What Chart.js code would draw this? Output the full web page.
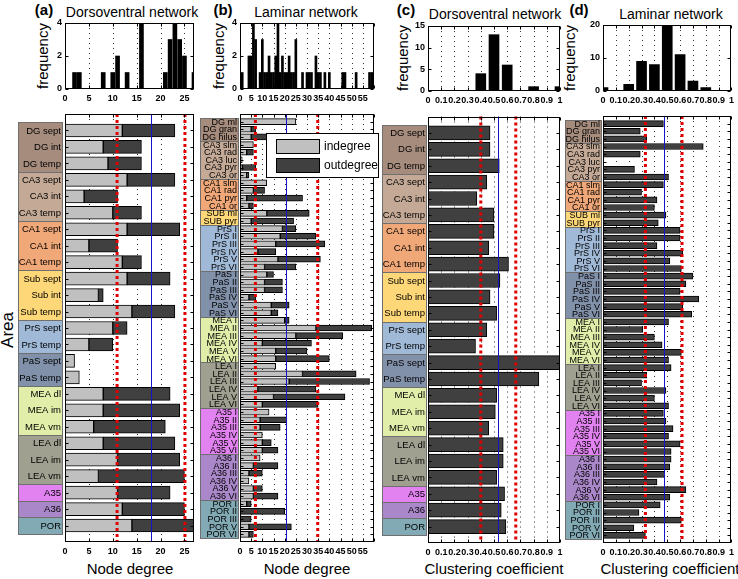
<!DOCTYPE html>
<html>
<head>
<meta charset="utf-8">
<script src="https://cdn.jsdelivr.net/npm/chart.js@4"></script>
<style>
  body { margin: 0; background: #fff; }
  #wrap { position: relative; width: 738px; height: 579px; font-family: "Liberation Sans", Arial, sans-serif; }
  #wrap canvas { position: absolute; left: 0; top: 0; }
  .t { position: absolute; white-space: nowrap; color: #000; transform: translate(-50%, -50%); }
  .b { font-weight: bold; font-size: 15px; }
  .ttl { font-size: 14px; }
  .ax { font-size: 15px; }
  .rot { transform: translate(-50%, -50%) rotate(-90deg); font-size: 15px; }
</style>
</head>
<body>
<div id="wrap">
  <div class="t b" style="left:44px;top:9px">(a)</div>
  <div class="t ttl" style="left:132px;top:12px">Dorsoventral network</div>
  <div class="t b" style="left:223px;top:9px">(b)</div>
  <div class="t ttl" style="left:306px;top:12px">Laminar network</div>
  <div class="t b" style="left:406px;top:9px">(c)</div>
  <div class="t ttl" style="left:495px;top:14px">Dorsoventral network</div>
  <div class="t b" style="left:579px;top:9px">(d)</div>
  <div class="t ttl" style="left:671px;top:14px">Laminar network</div>
  <div class="t rot" style="left:42px;top:56px">frequency</div>
  <div class="t rot" style="left:218px;top:56px">frequency</div>
  <div class="t rot" style="left:402px;top:58px">frequency</div>
  <div class="t rot" style="left:569px;top:58px">frequency</div>
  <div class="t rot" style="left:8px;top:330px;font-size:17px">Area</div>
  <div class="t ax" style="left:130px;top:568px">Node degree</div>
  <div class="t ax" style="left:307px;top:568px">Node degree</div>
  <div class="t ax" style="left:494px;top:568px">Clustering coefficient</div>
  <div class="t ax" style="left:670px;top:568px">Clustering coefficient</div>
</div>
<script>
  // dorsoventral network (25 areas)
  var areasDV = ['DG sept', 'DG int', 'DG temp', 'CA3 sept', 'CA3 int', 'CA3 temp', 'CA1 sept', 'CA1 int', 'CA1 temp',
    'Sub sept', 'Sub int', 'Sub temp', 'PrS sept', 'PrS temp', 'PaS sept', 'PaS temp', 'MEA dl', 'MEA im', 'MEA vm',
    'LEA dl', 'LEA im', 'LEA vm', 'A35', 'A36', 'POR'];
  var indegDV  = [12, 8, 9, 13, 4, 10, 13, 5, 12, 13, 7, 14, 10, 5, 2, 3, 8, 8, 6, 8, 11, 7, 11, 12, 14];
  var outdegDV = [11, 8, 7, 10, 7, 6, 11, 6, 4, 9, 1, 9, 3, 5, 0, 0, 14, 16, 15, 15, 13, 18, 11, 13, 13];
  var clustDV  = [0.47, 0.47, 0.54, 0.445, 0.37, 0.50, 0.50, 0.46, 0.61, 0.545, 0.47, 0.52, 0.445, 0.36, 1.0, 0.84,
    0.52, 0.51, 0.46, 0.57, 0.57, 0.52, 0.58, 0.555, 0.59];

  // laminar network (55 areas)
  var areasLam = ['DG ml', 'DG gran', 'DG hilus', 'CA3 slm', 'CA3 rad', 'CA3 luc', 'CA3 pyr', 'CA3 or', 'CA1 slm', 'CA1 rad',
    'CA1 pyr', 'CA1 or', 'SUB ml', 'SUB pyr', 'PrS I', 'PrS II', 'PrS III', 'PrS IV', 'PrS V', 'PrS VI', 'PaS I', 'PaS II',
    'PaS III', 'PaS IV', 'PaS V', 'PaS VI', 'MEA I', 'MEA II', 'MEA III', 'MEA IV', 'MEA V', 'MEA VI', 'LEA I', 'LEA II',
    'LEA III', 'LEA IV', 'LEA V', 'LEA VI', 'A35 I', 'A35 II', 'A35 III', 'A35 IV', 'A35 V', 'A35 VI', 'A36 I', 'A36 II',
    'A36 III', 'A36 IV', 'A36 V', 'A36 VI', 'POR I', 'POR II', 'POR III', 'POR V', 'POR VI'];
  var indegLam  = [25, 5, 5, 6, 3, 1, 1, 3, 12, 6, 3, 4, 12, 5, 19, 18, 16, 8, 17, 11, 12, 11, 11, 4, 14, 14, 20, 34, 25, 10,
    16, 16, 16, 28, 22, 8, 15, 10, 13, 9, 9, 10, 10, 10, 9, 6, 4, 4, 6, 6, 3, 0, 0, 4, 4];
  var outdegLam = [0, 2, 8, 0, 3, 0, 6, 1, 0, 5, 25, 2, 19, 19, 6, 16, 22, 8, 19, 14, 3, 8, 8, 3, 8, 3, 2, 25, 21, 22,
    14, 24, 0, 24, 36, 26, 32, 25, 0, 12, 9, 0, 4, 7, 0, 11, 6, 0, 4, 11, 2, 20, 5, 19, 2];
  var clustLam  = [0.47, 0.29, 0.34, 0.78, 0.29, 0, 0.245, 0.51, 0.47, 0.30, 0.42, 0.40, 0.49, 0.43, 0.60, 0.60, 0.42, 0.62,
    0.52, 0.61, 0.70, 0.645, 0.60, 0.745, 0.62, 0.69, 0.51, 0.31, 0.40, 0.46, 0.61, 0.51, 0.53, 0.34, 0.30, 0.49, 0.40,
    0.51, 0.47, 0.49, 0.545, 0.51, 0.60, 0.53, 0.53, 0.52, 0.48, 0.42, 0.645, 0.52, 0.445, 0.28, 0.61, 0.24, 0.33];

  // histograms (bin centre, count)
  var histDegDVx = [2, 3, 8, 10, 11, 13, 16, 21, 22, 23, 24, 25, 27];
  var histDegDVy = [1, 1, 1, 1, 2, 1, 4, 1, 3, 4, 3, 2, 1];
  var histDegLamx = [1, 4, 5, 6, 7, 9, 10, 11, 12, 13, 14, 15, 16, 17, 18, 19, 20, 21, 22, 23, 24, 25, 28, 30, 31, 32,
    34, 35, 36, 38, 40, 46, 47, 52, 58, 59];
  var histDegLamy = [1, 2, 2, 4, 3, 1, 3, 1, 1, 2, 1, 1, 2, 4, 1, 2, 1, 1, 2, 1, 1, 3, 1, 1, 1, 1, 2, 1, 1, 1, 1, 1, 1, 1, 1, 1];
  var histClDVx = [0.4, 0.5, 0.6, 0.8, 1.0];
  var histClDVy = [4, 13, 6, 1, 1];
  var histClLamx = [0, 0.2, 0.3, 0.4, 0.5, 0.6, 0.7, 0.8];
  var histClLamy = [1, 2, 9, 8, 20, 11, 3, 1];

  // mean +- sd marker lines: [low, mean, high]
  var refDegDV = [10.9, 18, 25.1];
  var refDegLam = [6.9, 20.8, 34.8];
  var refClDV = [0.40, 0.533, 0.665];
  var refClLam = [0.33, 0.472, 0.615];

  var groupColors = {
    DG: '#a68c7d', CA3: '#c4aa96', CA1: '#f0a878', SUB: '#fed878', PRS: '#a0b9d7', PAS: '#8291aa',
    MEA: '#e1eeaa', LEA: '#a0a091', A35: '#e182f0', A36: '#aa87c8', POR: '#82aab4'
  };
  var lightGray = '#c0c0c0';
  var darkGray = '#404040';

  Chart.defaults.font.family = "'Liberation Sans', Arial, sans-serif";
  Chart.defaults.color = '#000';

  var CW = 738, CH = 579;

  function padFor(area, yw) {
    return { left: area[0] - yw, top: area[1], right: CW - area[2], bottom: CH - area[3] - 20 };
  }

  function addCanvas() {
    var c = document.createElement('canvas');
    c.width = CW; c.height = CH;
    document.getElementById('wrap').appendChild(c);
    return c;
  }

  function fmtNum(v) { return v; }
  function fmtLam(v) { return v >= 60 ? '' : v; }
  function fmtCl(v) {
    if (Math.abs(v) < 1e-9) return '0';
    if (Math.abs(v - 1) < 1e-9) return '1';
    return v.toFixed(1);
  }

  function xScale(max, step, fmt, stacked) {
    return {
      type: 'linear', min: 0, max: max, offset: false, stacked: !!stacked,
      afterFit: function (s) { s.height = 20; },
      grid: { display: false, drawTicks: false }, border: { display: false },
      ticks: { stepSize: step, includeBounds: false, autoSkip: false, maxRotation: 0, padding: 4,
        font: { size: 9, weight: 'bold' }, callback: fmt }
    };
  }

  function groupOf(n) { return n.split(' ')[0].toUpperCase(); }

  function deco(cfg) {
    return {
      id: 'deco',
      beforeDatasetsDraw: function (chart) {
        var ctx = chart.ctx, a = chart.chartArea, x = chart.scales.x;
        ctx.save();
        ctx.strokeStyle = '#333';
        ctx.lineWidth = 1;
        ctx.setLineDash([1, 4]);
        x.ticks.forEach(function (t) {
          var px = Math.round(x.getPixelForValue(t.value)) + 0.5;
          if (px < a.left + 2 || px > a.right - 2) return;
          ctx.beginPath(); ctx.moveTo(px, a.top); ctx.lineTo(px, a.bottom); ctx.stroke();
        });
        ctx.restore();
      },
      afterDatasetsDraw: function (chart) {
        var ctx = chart.ctx, a = chart.chartArea, x = chart.scales.x, y = chart.scales.y;
        ctx.save();
        if (cfg.refs) {
          ctx.strokeStyle = '#e00000'; ctx.lineWidth = 3; ctx.setLineDash([3, 3]);
          [cfg.refs[0], cfg.refs[2]].forEach(function (v) {
            var px = x.getPixelForValue(v);
            ctx.beginPath(); ctx.moveTo(px, a.top); ctx.lineTo(px, a.bottom); ctx.stroke();
          });
          ctx.strokeStyle = '#1414c8'; ctx.lineWidth = 1; ctx.setLineDash([]);
          var pm = Math.round(x.getPixelForValue(cfg.refs[1])) + 0.5;
          ctx.beginPath(); ctx.moveTo(pm, a.top); ctx.lineTo(pm, a.bottom); ctx.stroke();
        }
        ctx.setLineDash([]);
        ctx.strokeStyle = '#000'; ctx.lineWidth = 1;
        var L = Math.round(a.left) + 0.5, R = Math.round(a.right) - 0.5;
        var T = Math.round(a.top) + 0.5, B = Math.round(a.bottom) - 0.5;
        ctx.strokeRect(L, T, R - L, B - T);
        ctx.beginPath();
        x.ticks.forEach(function (t) {
          var px = Math.round(x.getPixelForValue(t.value)) + 0.5;
          ctx.moveTo(px, T); ctx.lineTo(px, T + 3);
          ctx.moveTo(px, B); ctx.lineTo(px, B - 3);
        });
        if (cfg.names) {
          cfg.names.forEach(function (n, i) {
            var py = Math.round(y.getPixelForValue(i + 1)) + 0.5;
            ctx.moveTo(L, py); ctx.lineTo(L + 3, py);
            ctx.moveTo(R, py); ctx.lineTo(R - 3, py);
          });
        } else {
          y.ticks.forEach(function (t) {
            var py = Math.round(y.getPixelForValue(t.value)) + 0.5;
            ctx.moveTo(L, py); ctx.lineTo(L + 3, py);
            ctx.moveTo(R, py); ctx.lineTo(R - 3, py);
          });
        }
        ctx.stroke();
        ctx.restore();
      },
      afterDraw: function (chart) {
        if (!cfg.names) return;
        var ctx = chart.ctx, y = chart.scales.y;
        var bl = cfg.box[0], br = cfg.box[1];
        var s = y.getPixelForValue(2) - y.getPixelForValue(1);
        ctx.save();
        var start = 0;
        cfg.names.forEach(function (n, i) {
          var g = groupOf(n);
          var next = cfg.names[i + 1];
          if (next && groupOf(next) === g) return;
          var top = Math.round(y.getPixelForValue(start + 1) - s / 2);
          var bot = Math.round(y.getPixelForValue(i + 1) + s / 2);
          ctx.fillStyle = groupColors[g];
          ctx.fillRect(bl, top, br - bl, bot - top);
          ctx.strokeStyle = '#6f6f6f'; ctx.lineWidth = 1;
          ctx.strokeRect(bl + 0.5, top + 0.5, br - bl - 1, bot - top);
          start = i + 1;
        });
        ctx.fillStyle = '#000';
        ctx.font = cfg.box[2] + "px 'Liberation Sans', Arial, sans-serif";
        ctx.textAlign = 'right'; ctx.textBaseline = 'middle';
        cfg.names.forEach(function (n, i) {
          ctx.fillText(n, br - 2, y.getPixelForValue(i + 1) + 0.5);
        });
        if (cfg.legend) {
          var lx = cfg.legend[0], ly = cfg.legend[1], lw = cfg.legend[2], lh = cfg.legend[3];
          ctx.fillStyle = '#fff'; ctx.fillRect(lx, ly, lw, lh);
          ctx.strokeStyle = '#000'; ctx.strokeRect(lx + 0.5, ly + 0.5, lw, lh);
          ctx.font = "12px 'Liberation Sans', Arial, sans-serif";
          ctx.textAlign = 'left';
          chart.data.datasets.forEach(function (d, i) {
            var sy = ly + 6 + i * 19;
            ctx.fillStyle = d.backgroundColor; ctx.fillRect(lx + 10, sy, 43, 14);
            ctx.strokeRect(lx + 10.5, sy + 0.5, 43, 14);
            ctx.fillStyle = '#000';
            ctx.fillText(d.label, lx + 58, sy + 7.5);
          });
        }
        ctx.restore();
      }
    };
  }

  function histChart(xs, ys, area, xmax, xstep, fmt, ymax, ystep, barW) {
    return new Chart(addCanvas(), {
      type: 'bar',
      data: {
        datasets: [{
          data: xs.map(function (v, i) { return { x: v, y: ys[i] }; }),
          backgroundColor: '#000', borderWidth: 0, barThickness: barW
        }]
      },
      options: {
        responsive: false, animation: false, events: [],
        layout: { padding: padFor(area, 20) },
        plugins: { legend: { display: false }, tooltip: { enabled: false } },
        scales: {
          x: xScale(xmax, xstep, fmt),
          y: {
            min: 0, max: ymax, afterFit: function (s) { s.width = 20; },
            grid: { display: false, drawTicks: false }, border: { display: false },
            ticks: { stepSize: ystep, padding: 3, font: { size: 9, weight: 'bold' } }
          }
        }
      },
      plugins: [deco({})]
    });
  }

  function barChart(names, sets, area, xmax, xstep, fmt, refs, box, barW, legend) {
    function padData(v) { return [null].concat(v, [null]); }
    return new Chart(addCanvas(), {
      type: 'bar',
      data: {
        labels: [''].concat(names, ['']),
        datasets: sets.map(function (s) {
          return { label: s.label, data: padData(s.data), backgroundColor: s.color, borderColor: '#000',
            borderWidth: 1, borderSkipped: false, barThickness: barW };
        })
      },
      options: {
        indexAxis: 'y', responsive: false, animation: false, events: [],
        layout: { padding: padFor(area, 0) },
        plugins: { legend: { display: false }, tooltip: { enabled: false } },
        scales: {
          x: xScale(xmax, xstep, fmt, true),
          y: { type: 'category', offset: false, display: false, stacked: true }
        }
      },
      plugins: [deco({ names: names, refs: refs, box: box, legend: legend })]
    });
  }

  histChart(histDegDVx, histDegDVy, [65, 23, 194, 89], 27, 5, fmtNum, 4, 2, 4);
  histChart(histDegLamx, histDegLamy, [240, 23, 374, 89], 60, 5, fmtLam, 4, 2, 2);
  histChart(histClDVx, histClDVy, [428, 26, 560, 91], 1, 0.1, fmtCl, 15, 5, 10);
  histChart(histClLamx, histClLamy, [603, 25, 735, 91], 1, 0.1, fmtCl, 20, 10, 10);

  barChart(areasDV, [
    { label: 'indegree', data: indegDV, color: lightGray },
    { label: 'outdegree', data: outdegDV, color: darkGray }
  ], [65, 114, 194, 542], 27, 5, fmtNum, refDegDV, [18, 63, 9.5], 13);

  barChart(areasLam, [
    { label: 'indegree', data: indegLam, color: lightGray },
    { label: 'outdegree', data: outdegLam, color: darkGray }
  ], [240, 114, 374, 542], 60, 5, fmtLam, refDegLam, [200, 239, 9], 6, [266, 133, 112, 44]);

  barChart(areasDV, [
    { label: 'clustering', data: clustDV, color: darkGray }
  ], [428, 116.5, 560, 543], 1, 0.1, fmtCl, refClDV, [382, 427, 9.5], 14);

  barChart(areasLam, [
    { label: 'clustering', data: clustLam, color: darkGray }
  ], [603, 116, 735, 543], 1, 0.1, fmtCl, refClLam, [565, 602, 9], 6);
</script>
</body>
</html>
